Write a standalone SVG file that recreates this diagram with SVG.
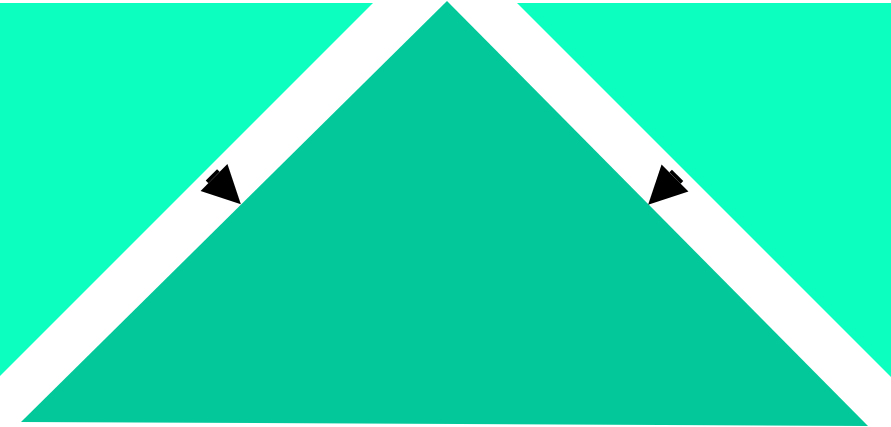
<svg xmlns="http://www.w3.org/2000/svg" width="891" height="427" viewBox="0 0 891 427">
<style>
.side{fill:#0DFFC0}
.main{fill:#03C99A}
.conn{stroke:#000;stroke-width:16;fill:none;marker-end:url(#ah)}
</style>
<defs>
<marker id="ah" markerUnits="userSpaceOnUse" orient="auto" refX="0" refY="0" markerWidth="40" markerHeight="40" viewBox="0 -20 40 40" overflow="visible">
<path d="M0,-19 L38,0 L0,19 Z" fill="#000"/>
</marker>
</defs>
<rect width="891" height="427" fill="#fff"/>
<g id="left"><polygon class="side" points="0,3 373,3 0,376"/></g>
<g id="right"><polygon class="side" points="517,3 891,3 891,377"/></g>
<g id="center"><polygon class="main" points="447,1 868,426 21,422"/></g>
<g id="connectors">
<path class="conn" d="M211.4,174.9 L214,177.5"/>
<path class="conn" d="M677.6,175.4 L675,178"/>
</g>
</svg>
